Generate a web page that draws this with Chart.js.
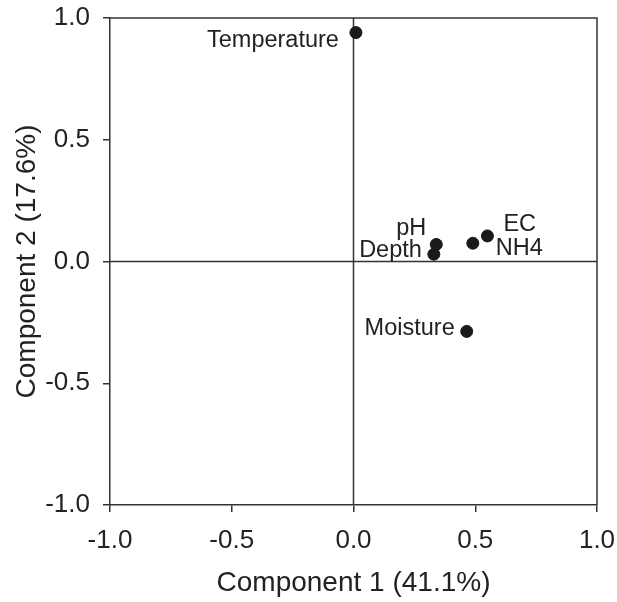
<!DOCTYPE html>
<html>
<head>
<meta charset="utf-8">
<script src="https://cdn.jsdelivr.net/npm/chart.js@4.4.1/dist/chart.umd.min.js"></script>
<style>
  html, body { margin: 0; padding: 0; background: #fff; }
  #wrap { width: 617px; height: 602px; }
</style>
</head>
<body>
<div id="wrap"><canvas id="myChart"></canvas></div>
<script>
// PCA loadings
var variables = ['Temperature', 'pH', 'Depth', 'EC', 'NH4', 'Moisture'];
var comp1 = [0.01, 0.34, 0.33, 0.55, 0.49, 0.465];
var comp2 = [0.94, 0.07, 0.03, 0.105, 0.075, -0.287];
var axisTicks = [-1.0, -0.5, 0.0, 0.5, 1.0];

// where each label sits relative to its point (dx, dy, align)
var labelPlace = [
    [-17, 8, 'right'],
    [-10, -16, 'right'],
    [-12, -4, 'right'],
    [16, -11, 'left'],
    [23, 5, 'left'],
    [-12, -3, 'right']
];

var ink = '#333333';
var fontFam = '"Liberation Sans", Arial, Helvetica, sans-serif';

var points = [];
for (var i = 0; i < variables.length; i++) {
    points.push({ x: comp1[i], y: comp2[i] });
}

// box around the plot plus the zero cross
var framePlugin = {
    id: 'frame',
    beforeDatasetsDraw: function (chart) {
        var a = chart.chartArea;
        var c = chart.ctx;
        var x0 = chart.scales.x.getPixelForValue(0);
        var y0 = chart.scales.y.getPixelForValue(0);
        c.save();
        c.strokeStyle = ink;
        c.lineWidth = 1.5;
        c.beginPath();
        c.moveTo(a.left, a.top);
        c.lineTo(a.right, a.top);
        c.lineTo(a.right, a.bottom);
        c.moveTo(x0, a.top);
        c.lineTo(x0, a.bottom);
        c.moveTo(a.left, y0);
        c.lineTo(a.right, y0);
        c.stroke();
        c.restore();
    }
};

var labelPlugin = {
    id: 'pointLabels',
    afterDatasetsDraw: function (chart) {
        var c = chart.ctx;
        var meta = chart.getDatasetMeta(0);
        c.save();
        c.fillStyle = '#222';
        c.font = '23.5px ' + fontFam;
        c.textBaseline = 'middle';
        meta.data.forEach(function (pt, i) {
            var p = labelPlace[i];
            c.textAlign = p[2];
            c.fillText(variables[i], pt.x + p[0], pt.y + p[1]);
        });
        c.restore();
    }
};

var ctx = document.getElementById('myChart').getContext('2d');
var myChart = new Chart(ctx, {
    type: 'scatter',
    data: {
        datasets: [{
            data: points,
            backgroundColor: '#1a1a1a',
            borderColor: '#1a1a1a',
            pointRadius: 6,
            pointHoverRadius: 6
        }]
    },
    options: {
        responsive: true,
        maintainAspectRatio: false,
        animation: false,
        layout: { padding: { left: 0, right: 20, top: 18, bottom: 0 } },
        plugins: {
            legend: { display: false },
            tooltip: { enabled: false }
        },
        scales: {
            x: {
                type: 'linear',
                min: -1,
                max: 1,
                afterBuildTicks: function (scale) {
                    scale.ticks = axisTicks.map(function (v) { return { value: v }; });
                },
                afterFit: function (scale) {
                    scale.height = 97;
                    scale.paddingLeft = 0;
                    scale.paddingRight = 0;
                },
                grid: {
                    drawOnChartArea: false,
                    drawTicks: true,
                    tickLength: 7,
                    color: ink,
                    lineWidth: 1.5
                },
                border: { display: true, color: ink, width: 1.5 },
                ticks: {
                    padding: 13,
                    color: '#222',
                    font: { family: fontFam, size: 26 },
                    maxRotation: 0,
                    callback: function (v) { return Number(v).toFixed(1); }
                },
                title: {
                    display: true,
                    text: 'Component 1 (41.1%)',
                    color: '#222',
                    font: { family: fontFam, size: 28 },
                    padding: { top: 0, bottom: 2 }
                }
            },
            y: {
                type: 'linear',
                min: -1,
                max: 1,
                afterBuildTicks: function (scale) {
                    scale.ticks = axisTicks.map(function (v) { return { value: v }; });
                },
                afterFit: function (scale) {
                    scale.width = 110;
                    scale.paddingTop = 0;
                    scale.paddingBottom = 0;
                },
                grid: {
                    drawOnChartArea: false,
                    drawTicks: true,
                    tickLength: 7,
                    color: ink,
                    lineWidth: 1.5
                },
                border: { display: true, color: ink, width: 1.5 },
                ticks: {
                    padding: 13,
                    color: '#222',
                    font: { family: fontFam, size: 26 },
                    callback: function (v) { return Number(v).toFixed(1); }
                },
                title: {
                    display: true,
                    text: 'Component 2 (17.6%)',
                    color: '#222',
                    font: { family: fontFam, size: 28 },
                    padding: { top: 10, bottom: 0 }
                }
            }
        }
    },
    plugins: [framePlugin, labelPlugin]
});
</script>
</body>
</html>
